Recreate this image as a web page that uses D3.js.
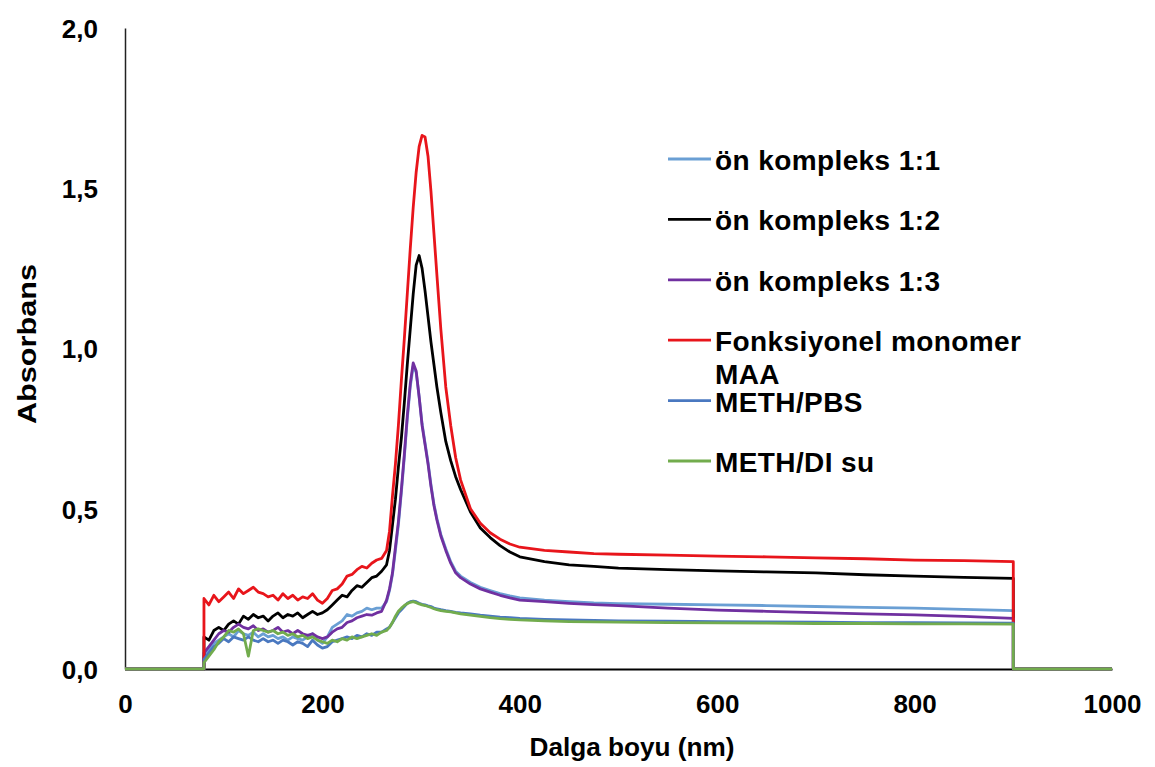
<!DOCTYPE html>
<html>
<head>
<meta charset="utf-8">
<script src="https://cdn.jsdelivr.net/npm/d3@7"></script>
<style>
  body { margin: 0; background: #fff; }
  text { font-family: "Liberation Sans", Arial, sans-serif; font-weight: bold; fill: #000; }
</style>
</head>
<body>
<svg width="1155" height="767"></svg>
<script>
// wavelengths (nm), shared by all series
var wavelength = [0, 80, 80, 85, 90, 95, 100, 105, 110, 115, 120, 125, 130, 135, 140, 145, 150, 155, 160, 165, 170, 175, 180, 185, 190, 195, 200, 205, 210, 215, 220, 225, 230, 235, 240, 245, 250, 255, 260,
  265, 268, 271, 274, 277, 280, 283, 286, 289, 292, 295, 298, 301, 304, 307, 310, 313, 316, 320, 325, 330, 335, 340, 350, 360, 370, 380, 390, 400,
  425, 450, 475, 500, 550, 600, 650, 700, 750, 800, 850, 900, 900, 1000];

// absorbance per series
var onKompleks11 = [0, 0, 0.04, 0.06, 0.08, 0.09, 0.10, 0.11, 0.10, 0.12, 0.11, 0.105, 0.115, 0.10, 0.11, 0.10, 0.105, 0.095, 0.10, 0.09, 0.10, 0.095, 0.09, 0.10, 0.11, 0.09, 0.08, 0.10, 0.13, 0.14, 0.15, 0.17, 0.165, 0.175, 0.18, 0.19, 0.185, 0.19, 0.19,
  0.21, 0.245, 0.295, 0.37, 0.45, 0.55, 0.66, 0.78, 0.88, 0.945, 0.925, 0.85, 0.765, 0.705, 0.645, 0.575, 0.515, 0.47, 0.42, 0.375, 0.335, 0.305, 0.29, 0.27, 0.255, 0.245, 0.235, 0.228, 0.222,
  0.215, 0.21, 0.206, 0.204, 0.202, 0.20, 0.198, 0.195, 0.192, 0.19, 0.186, 0.182, 0, 0];

var onKompleks12 = [0, 0, 0.10, 0.09, 0.12, 0.13, 0.12, 0.14, 0.15, 0.14, 0.165, 0.155, 0.17, 0.16, 0.165, 0.15, 0.165, 0.175, 0.16, 0.17, 0.165, 0.175, 0.16, 0.17, 0.18, 0.17, 0.175, 0.185, 0.20, 0.215, 0.23, 0.225, 0.245, 0.26, 0.255, 0.27, 0.285, 0.29, 0.305,
  0.325, 0.37, 0.45, 0.53, 0.63, 0.72, 0.83, 0.95, 1.06, 1.17, 1.26, 1.29, 1.25, 1.18, 1.10, 1.02, 0.95, 0.88, 0.80, 0.71, 0.65, 0.60, 0.56, 0.49, 0.44, 0.41, 0.385, 0.365, 0.35,
  0.335, 0.325, 0.32, 0.315, 0.31, 0.306, 0.303, 0.30, 0.294, 0.29, 0.286, 0.283, 0, 0];

var onKompleks13 = [0, 0, 0.05, 0.07, 0.09, 0.11, 0.12, 0.115, 0.13, 0.14, 0.13, 0.125, 0.135, 0.12, 0.125, 0.115, 0.12, 0.13, 0.115, 0.12, 0.11, 0.12, 0.11, 0.105, 0.11, 0.10, 0.095, 0.10, 0.115, 0.125, 0.13, 0.145, 0.15, 0.16, 0.165, 0.17, 0.168, 0.175, 0.18,
  0.215, 0.25, 0.30, 0.38, 0.46, 0.56, 0.67, 0.79, 0.89, 0.955, 0.93, 0.85, 0.76, 0.70, 0.64, 0.57, 0.51, 0.465, 0.415, 0.37, 0.33, 0.30, 0.285, 0.265, 0.25, 0.24, 0.23, 0.222, 0.215,
  0.21, 0.205, 0.201, 0.198, 0.19, 0.184, 0.18, 0.176, 0.172, 0.169, 0.164, 0.158, 0, 0];

var monomerMAA = [0, 0, 0.22, 0.20, 0.23, 0.21, 0.225, 0.24, 0.22, 0.25, 0.235, 0.245, 0.255, 0.24, 0.235, 0.225, 0.23, 0.215, 0.235, 0.22, 0.23, 0.215, 0.225, 0.22, 0.235, 0.215, 0.205, 0.22, 0.245, 0.25, 0.265, 0.29, 0.295, 0.31, 0.32, 0.315, 0.33, 0.34, 0.345,
  0.37, 0.43, 0.54, 0.64, 0.76, 0.90, 1.03, 1.17, 1.31, 1.44, 1.55, 1.63, 1.665, 1.66, 1.60, 1.49, 1.36, 1.23, 1.06, 0.88, 0.76, 0.66, 0.59, 0.50, 0.455, 0.425, 0.405, 0.39, 0.38,
  0.37, 0.365, 0.36, 0.358, 0.355, 0.352, 0.35, 0.347, 0.344, 0.34, 0.338, 0.335, 0, 0];

var methPBS = [0, 0, 0.03, 0.05, 0.07, 0.08, 0.095, 0.085, 0.10, 0.095, 0.09, 0.10, 0.09, 0.085, 0.095, 0.085, 0.09, 0.08, 0.09, 0.085, 0.075, 0.085, 0.08, 0.07, 0.09, 0.075, 0.065, 0.07, 0.085, 0.09, 0.095, 0.10, 0.095, 0.105, 0.10, 0.11, 0.105, 0.115, 0.115,
  0.125, 0.13, 0.145, 0.16, 0.175, 0.185, 0.195, 0.205, 0.21, 0.212, 0.21, 0.205, 0.202, 0.20, 0.197, 0.195, 0.19, 0.188, 0.185, 0.182, 0.18, 0.177, 0.175, 0.172, 0.168, 0.165, 0.162, 0.16, 0.158,
  0.155, 0.153, 0.152, 0.15, 0.149, 0.148, 0.147, 0.146, 0.145, 0.145, 0.144, 0.143, 0, 0];

var methDISu = [0, 0, 0.02, 0.04, 0.06, 0.085, 0.10, 0.12, 0.115, 0.125, 0.11, 0.04, 0.12, 0.125, 0.12, 0.115, 0.12, 0.11, 0.115, 0.105, 0.11, 0.10, 0.105, 0.095, 0.10, 0.09, 0.085, 0.08, 0.09, 0.085, 0.095, 0.09, 0.10, 0.095, 0.10, 0.105, 0.11, 0.105, 0.115,
  0.12, 0.13, 0.145, 0.165, 0.18, 0.19, 0.198, 0.204, 0.208, 0.21, 0.207, 0.203, 0.20, 0.198, 0.195, 0.192, 0.188, 0.185, 0.182, 0.18, 0.178, 0.175, 0.172, 0.168, 0.164, 0.16, 0.157, 0.155, 0.153,
  0.15, 0.148, 0.147, 0.146, 0.145, 0.144, 0.143, 0.142, 0.142, 0.141, 0.141, 0.14, 0, 0];

var seriesNames = ["ön kompleks 1:1", "ön kompleks 1:2", "ön kompleks 1:3", "Fonksiyonel monomer MAA", "METH/PBS", "METH/DI su"];
var seriesValues = [onKompleks11, onKompleks12, onKompleks13, monomerMAA, methPBS, methDISu];
var seriesColors = ["#6a9fd4", "#000000", "#7030a0", "#e8151b", "#4a78c0", "#72ac4d"];

var xTicks = [0, 200, 400, 600, 800, 1000];
var yTicks = [0, 0.5, 1, 1.5, 2];

var svg = d3.select("svg");

var x = d3.scaleLinear().domain([0, 1000]).range([125, 1112]);
var y = d3.scaleLinear().domain([0, 2]).range([669, 28]);

var comma = d3.formatLocale({ decimal: ",", thousands: ".", grouping: [3], currency: ["", ""] });

// axes
var yAxis = svg.append("g")
  .attr("transform", "translate(125,0)")
  .call(d3.axisLeft(y).tickValues(yTicks).tickSize(0).tickSizeOuter(0).tickPadding(27).tickFormat(comma.format(".1f")));
yAxis.select(".domain").attr("stroke", "#222").attr("stroke-width", 1.5);
yAxis.selectAll("text").attr("font-size", 26).attr("dy", "0.36em");

var xAxis = svg.append("g")
  .attr("transform", "translate(0,669)")
  .call(d3.axisBottom(x).tickValues(xTicks).tickSize(0).tickSizeOuter(0).tickPadding(26).tickFormat(d3.format("d")));
xAxis.select(".domain").attr("stroke", "#000").attr("stroke-width", 2);
xAxis.selectAll("text").attr("font-size", 26);

// lines
var line = d3.line()
  .x(function(d, i) { return x(wavelength[i]); })
  .y(function(d) { return y(d); });

svg.append("g")
  .selectAll("path")
  .data(seriesValues)
  .enter().append("path")
    .attr("fill", "none")
    .attr("stroke", function(d, i) { return seriesColors[i]; })
    .attr("stroke-width", 2.8)
    .attr("stroke-linejoin", "round")
    .attr("d", line);

// axis titles
svg.append("text")
  .attr("x", 632)
  .attr("y", 756)
  .attr("text-anchor", "middle")
  .attr("font-size", 25)
  .attr("textLength", 205)
  .attr("lengthAdjust", "spacingAndGlyphs")
  .text("Dalga boyu (nm)");

svg.append("text")
  .attr("transform", "translate(36,344) rotate(-90)")
  .attr("text-anchor", "middle")
  .attr("font-size", 25)
  .attr("textLength", 160)
  .attr("lengthAdjust", "spacingAndGlyphs")
  .text("Absorbans");

// legend
var legend = svg.append("g")
  .selectAll("g")
  .data(seriesNames)
  .enter().append("g")
    .attr("transform", function(d, i) { return "translate(668," + (159 + i * 60.4) + ")"; });

legend.append("line")
  .attr("x1", 0).attr("x2", 43)
  .attr("stroke", function(d, i) { return seriesColors[i]; })
  .attr("stroke-width", 2.8);

legend.append("text")
  .attr("x", 47)
  .attr("y", 11)
  .attr("font-size", 28)
  .attr("letter-spacing", 0.4)
  .each(function(d) {
    var t = d3.select(this);
    if (d === "Fonksiyonel monomer MAA") {
      t.append("tspan").attr("x", 47).text("Fonksiyonel monomer");
      t.append("tspan").attr("x", 47).attr("dy", 33).text("MAA");
    } else {
      t.text(d);
    }
  });
</script>
</body>
</html>
